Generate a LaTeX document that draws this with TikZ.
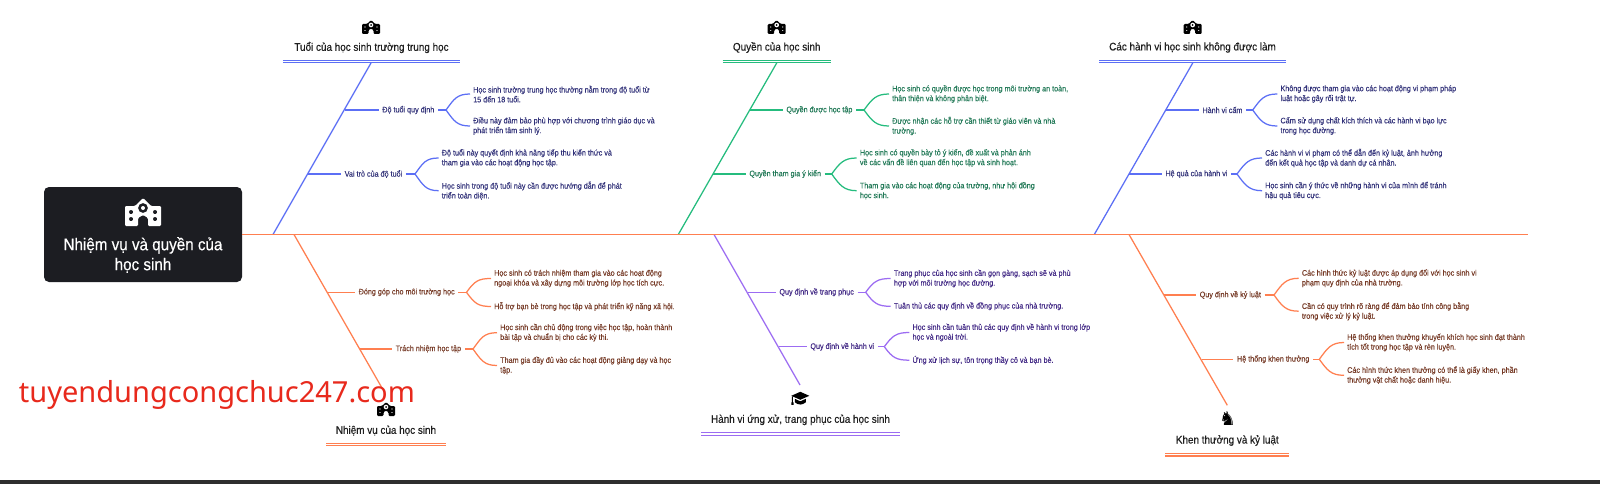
\documentclass[tikz,border=0pt]{standalone}
\usepackage{fontspec}
\setmainfont[FakeStretch=0.9,FakeBold=0.08]{Liberation Sans}
\newfontfamily\titlefont[FakeStretch=0.9,FakeBold=0.4]{Liberation Sans}
\newfontfamily\markfont{Noto Sans}
\newfontfamily\knightfont{DejaVu Sans}

\definecolor{lineblue}{HTML}{5C6FF5}
\definecolor{textblue}{HTML}{33337A}
\definecolor{linegreen}{HTML}{25BC7E}
\definecolor{textgreen}{HTML}{237A58}
\definecolor{lineorange}{HTML}{FF7F50}
\definecolor{textorange}{HTML}{763A26}
\definecolor{linepurple}{HTML}{9C6CF2}
\definecolor{textpurple}{HTML}{432A86}
\definecolor{boxdark}{HTML}{1C1D22}

\tikzset{
  ribline/.style={line width=1.25pt},
  riblabel/.style={inner xsep=3.5pt,inner ysep=0pt,font=\fontsize{8}{9.8}\selectfont},
  leaftext/.style={anchor=west,inner xsep=3pt,inner ysep=0pt,align=left,font=\fontsize{8}{9.8}\selectfont},
  cattitle/.style={inner sep=0pt,font=\titlefont\fontsize{11}{12}\selectfont},
  schoolicon/.pic={
    \fill[even odd rule,rounded corners=1.2pt]
      (-18,-6) -- (-8,-6) -- (0,-14) -- (8,-6) -- (18,-6) -- (18,14) -- (5,14) -- (5,6) -- (0,3) -- (-5,6) -- (-5,14) -- (-18,14) -- cycle
      (-14,-2) rectangle (-10,2) (-14,5) rectangle (-10,9)
      (10,-2) rectangle (14,2) (10,5) rectangle (14,9)
      (0,-4) circle (5) (0,-4) circle (2);
  },
  capicon/.pic={
    \fill (-18,-5) -- (0,-13) -- (18,-5) -- (0,3) -- cycle;
    \fill (-11,1) -- (0,6) -- (11,1) -- (11,8) .. controls (4,14) and (-4,14) .. (-11,8) -- cycle;
    \fill (-16.8,-4) rectangle (-14.8,8) (-18,8) rectangle (-13.6,13);
  },
  knighticon/.pic={
    \node[inner sep=0pt,font=\knightfont\fontsize{19}{19}\selectfont] {♞};
  }
}

\begin{document}
\begin{tikzpicture}[x=1pt,y=-1pt]
  \useasboundingbox (0,0) rectangle (1600,484);
  \fill[white] (0,0) rectangle (1600,484);

  %bottom bar
  \fill[black!82] (0,480) rectangle (1600,484);

  %categories
  \foreach \hue/\cat/\ic/\ix/\iy/\ty/\rl/\rr/\ry/\sx/\sy/\ax/\ay/\name in {
    blue/a/schoolicon/371/27/47.5/283/460/61.5/371/63/273/234.5/{Tuổi của học sinh trường trung học},
    green/b/schoolicon/776.7/27/47.5/722.7/830.7/61.5/776.7/63/678.3/234.5/{Quyền của học sinh},
    blue/c/schoolicon/1192.7/27/47.5/1099.3/1285.7/61.5/1192.7/63/1094.3/234.5/{Các hành vi học sinh không được làm},
    orange/d/schoolicon/386/409/430.5/326/446/444.5/382/388/294/234.5/{Nhiệm vụ của học sinh},
    purple/e/capicon/800.3/398.3/419.8/701/900/434/800/385/714/234.5/{Hành vi ứng xử, trang phục của học sinh},
    orange/f/knighticon/1227.7/418.3/440.5/1165.3/1289.3/454.6/1227.3/405.3/1129/234.5/{Khen thưởng và kỷ luật}}{
    \pic[scale=0.5] (icon\cat) at (\ix,\iy) {\ic};
    \node[cattitle,text=black!88] (title\cat) at ({(\rl+\rr)/2},\ty) {\name};
    \coordinate (rulel\cat) at (\rl,\ry);
    \coordinate (ruler\cat) at (\rr,\ry);
    \coordinate (top\cat) at (\sx,\sy);
    \coordinate (foot\cat) at (\ax,\ay);
    \draw[line width=1.1pt,draw=line\hue,double,double distance=1.6pt] (rulel\cat) -- (ruler\cat);
    \draw[ribline,draw=line\hue] (top\cat) -- (foot\cat);
  }

  %ribs
  \foreach \hue/\rib/\px/\ry/\lx/\jx/\ex/\uy/\dy/\lab/\leafA/\leafB in {
    blue/a1/345/110/378.6/446/470/94/126/{Độ tuổi quy định}/{Học sinh trường trung học thường nằm trong độ tuổi từ\\15 đến 18 tuổi.}/{Điều này đảm bảo phù hợp với chương trình giáo dục và\\phát triển tâm sinh lý.},
    blue/a2/308/174/341/415/438.6/158/190.7/{Vai trò của độ tuổi}/{Độ tuổi này quyết định khả năng tiếp thu kiến thức và\\tham gia vào các hoạt động học tập.}/{Học sinh trong độ tuổi này cần được hướng dẫn để phát\\triển toàn diện.},
    green/b1/750/110/782.7/864/889/94/126/{Quyền được học tập}/{Học sinh có quyền được học trong môi trường an toàn,\\thân thiện và không phân biệt.}/{Được nhận các hỗ trợ cần thiết từ giáo viên và nhà\\trường.},
    green/b2/713/174/745.7/831.7/856.7/158/190.7/{Quyền tham gia ý kiến}/{Học sinh có quyền bày tỏ ý kiến, đề xuất và phản ánh\\về các vấn đề liên quan đến học tập và sinh hoạt.}/{Tham gia vào các hoạt động của trường, như hội đồng\\học sinh.},
    blue/c1/1166/110/1198.7/1252.7/1277.3/94/126/{Hành vi cấm}/{Không được tham gia vào các hoạt động vi phạm pháp\\luật hoặc gây rối trật tự.}/{Cấm sử dụng chất kích thích và các hành vi bạo lực\\trong học đường.},
    blue/c2/1129.3/174/1161.7/1237/1262/158/190.7/{Hệ quả của hành vi}/{Các hành vi vi phạm có thể dẫn đến kỷ luật, ảnh hưởng\\đến kết quả học tập và danh dự cá nhân.}/{Học sinh cần ý thức về những hành vi của mình để tránh\\hậu quả tiêu cực.},
    orange/d1/327/292.3/355/466.5/491/278.5/306.5/{Đóng góp cho môi trường học}/{Học sinh có trách nhiệm tham gia vào các hoạt động\\ngoại khóa và xây dựng môi trường lớp học tích cực.}/{Hỗ trợ bạn bè trong học tập và phát triển kỹ năng xã hội.},
    orange/d2/360/349/392/473/497/332.7/365.5/{Trách nhiệm học tập}/{Học sinh cần chủ động trong việc học tập, hoàn thành\\bài tập và chuẩn bị cho các kỳ thi.}/{Tham gia đầy đủ vào các hoạt động giảng dạy và học\\tập.},
    purple/e1/747.7/292.3/775.7/865.7/890.7/278.5/306.3/{Quy định về trang phục}/{Trang phục của học sinh cần gọn gàng, sạch sẽ và phù\\hợp với môi trường học đường.}/{Tuân thủ các quy định về đồng phục của nhà trường.},
    purple/e2/779.3/346.7/806.7/884.3/909.3/332.5/360.2/{Quy định về hành vi}/{Học sinh cần tuân thủ các quy định về hành vi trong lớp\\học và ngoài trời.}/{Ứng xử lịch sự, tôn trọng thầy cô và bạn bè.},
    orange/f1/1164/295/1196/1274/1298.7/278.3/311.2/{Quy định về kỷ luật}/{Các hình thức kỷ luật được áp dụng đối với học sinh vi\\phạm quy định của nhà trường.}/{Cần có quy trình rõ ràng để đảm bảo tính công bằng\\trong việc xử lý kỷ luật.},
    orange/f2/1201.7/359.3/1233.3/1319.3/1344/342.5/375.3/{Hệ thống khen thưởng}/{Hệ thống khen thưởng khuyến khích học sinh đạt thành\\tích tốt trong học tập và rèn luyện.}/{Các hình thức khen thưởng có thể là giấy khen, phần\\thưởng vật chất hoặc danh hiệu.}}{
    \coordinate (spine\rib) at (\px,\ry);
    \coordinate (fork\rib) at (\jx,\ry);
    \node[riblabel,anchor=west,text=text\hue] (lab\rib) at (\lx,\ry) {\lab};
    \node[leaftext,text=text\hue] (up\rib) at (\ex,\uy) {\leafA};
    \node[leaftext,text=text\hue] (down\rib) at (\ex,\dy) {\leafB};
    \draw[ribline,draw=line\hue] (spine\rib) -- (lab\rib.west);
    \draw[ribline,draw=line\hue] (lab\rib.east) -- (fork\rib);
    \draw[ribline,draw=line\hue] (fork\rib) .. controls +(8,-11) and +(-13,0) .. (up\rib.west);
    \draw[ribline,draw=line\hue] (fork\rib) .. controls +(8,11) and +(-13,0) .. (down\rib.west);
  }

  %centre box and axis
  \node[fill=boxdark,rounded corners=5pt,minimum width=198pt,minimum height=95pt,inner sep=0pt] (root) at (143,234.5) {};
  \pic[white] (rooticon) at (143,212) {schoolicon};
  \node[text=white,align=center,inner sep=0pt,font=\titlefont\fontsize{16.9}{20}\selectfont] (roottext) at (143,255) {Nhiệm vụ và quyền của\\học sinh};
  \coordinate (axisend) at (1527.7,234.5);
  \draw[line width=1.5pt,draw=lineorange] (root.east) -- (axisend);

  %watermark
  \node[anchor=west,inner sep=0pt,text={rgb,255:red,232;green,41;blue,28},font=\markfont\fontsize{29}{30}\selectfont] (mark) at (18.7,395) {tuyendungcongchuc247.com};

\end{tikzpicture}
\end{document}
